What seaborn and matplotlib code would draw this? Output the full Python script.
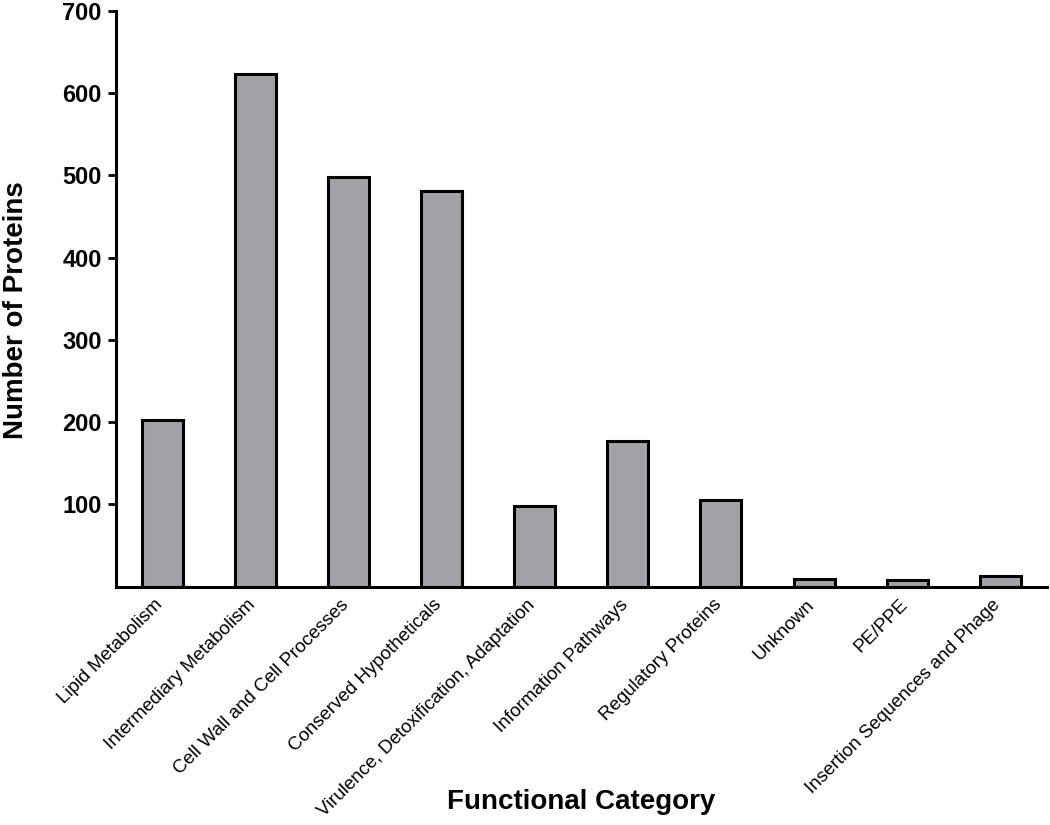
import matplotlib
matplotlib.use("Agg")
import matplotlib.pyplot as plt
import matplotlib.transforms as mtransforms
import seaborn as sns
import pandas as pd

# Functional categories and protein counts
categories = [
    "Lipid Metabolism",
    "Intermediary Metabolism",
    "Cell Wall and Cell Processes",
    "Conserved Hypotheticals",
    "Virulence, Detoxification, Adaptation",
    "Information Pathways",
    "Regulatory Proteins",
    "Unknown",
    "PE/PPE",
    "Insertion Sequences and Phage",
]
protein_counts = [202, 623, 498, 481, 98, 177, 105, 9, 8, 13]
y_ticks = [100, 200, 300, 400, 500, 600, 700]

df = pd.DataFrame({"category": categories, "count": protein_counts})

sns.set_style("ticks")
plt.rcParams["font.family"] = ["Liberation Sans", "DejaVu Sans"]
plt.rcParams["text.color"] = "black"
plt.rcParams["axes.labelcolor"] = "black"
plt.rcParams["xtick.color"] = "black"
plt.rcParams["ytick.color"] = "black"

fig = plt.figure(figsize=(10.5, 8.25), dpi=100)
ax = fig.add_axes([0.110, 0.289, 0.887, 0.698])

sns.barplot(data=df, x="category", y="count", color="#a1a2a6",
            edgecolor="black", linewidth=2.2, width=0.44, saturation=1, ax=ax)

ax.set_xlim(-0.5, 9.5)
ax.set_ylim(0, 700)
ax.set_yticks(y_ticks)
ax.set_yticklabels([str(t) for t in y_ticks], fontsize=17, fontweight="bold")

ax.set_xticks(range(len(categories)))
ax.set_xticklabels(categories, rotation=45, ha="right", rotation_mode="anchor", fontsize=13.5)
ax.tick_params(axis="x", length=0, pad=7)
ax.tick_params(axis="y", length=6, width=2, pad=4)

# nudge rotated labels a little to the left so they end at the bar centre
shift = mtransforms.ScaledTranslation(-6 / 72, 0, fig.dpi_scale_trans)
for lbl in ax.get_xticklabels():
    lbl.set_transform(lbl.get_transform() + shift)

for side in ["top", "right"]:
    ax.spines[side].set_visible(False)
for side in ["left", "bottom"]:
    ax.spines[side].set_linewidth(2.2)
    ax.spines[side].set_color("black")

ax.set_xlabel("Functional Category", fontsize=20, fontweight="bold")
ax.xaxis.set_label_coords(0.5, -0.352)
ax.set_ylabel("Number of Proteins", fontsize=20, fontweight="bold")
ax.yaxis.set_label_coords(-0.093, 0.48)

fig.savefig("out.png", dpi=100)
plt.close(fig)
